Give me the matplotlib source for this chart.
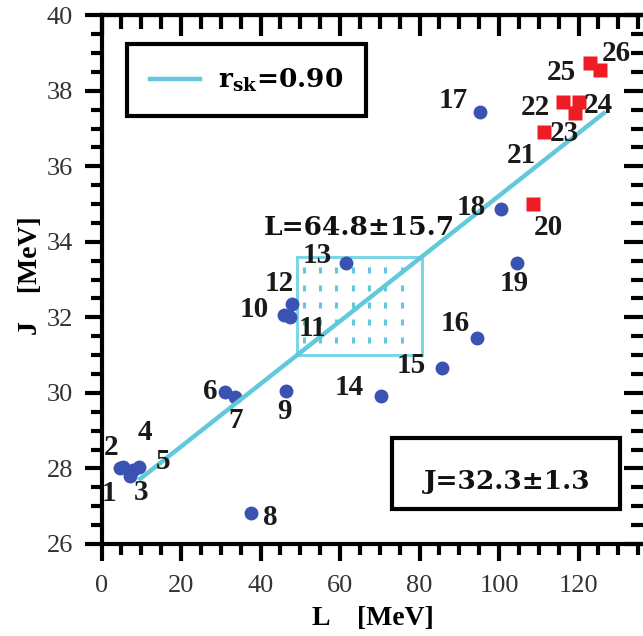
import matplotlib.pyplot as plt
import numpy as np
from matplotlib.patches import Rectangle
from matplotlib.ticker import MultipleLocator

plt.rcParams['mathtext.fontset'] = 'dejavuserif'

# symmetry energy J vs slope L, both in MeV
blue_ids = list(range(1, 20))
blue_L = [4.6, 5.5, 7.2, 9.3, 8.0, 31.1, 33.5, 37.7, 46.3, 46.0, 47.5, 48.0,
          61.6, 70.4, 85.6, 94.4, 95.2, 100.6, 104.5]
blue_J = [28.0, 28.05, 27.8, 28.05, 27.95, 30.03, 29.89, 26.83, 30.05, 32.05,
          32.0, 32.35, 33.43, 29.92, 30.65, 31.45, 37.44, 34.87, 33.45]
red_ids = list(range(20, 27))
red_L = [108.6, 111.2, 116.2, 119.0, 120.0, 122.8, 125.3]
red_J = [35.0, 36.9, 37.7, 37.4, 37.7, 38.73, 38.55]

# linear fit J = a + b*L
fit_a = 26.92
fit_b = 0.0830
fit_L = [9.7, 126.3]
r_sk = 0.90

L_mean, L_err = 64.8, 15.7
J_mean, J_err = 32.3, 1.3

# label offsets from each point, in pixels (dx right, dy up)
label_off = {
    1: (-11, -25), 2: (-12, 19), 3: (11, -17), 4: (6, 34), 5: (30, 9),
    6: (-15, 0), 7: (1, -23), 8: (19, -5), 9: (-1, -20), 10: (-30, 6),
    11: (22, -11), 12: (-13, 21), 13: (-29, 8), 14: (-32, 8), 15: (-31, 3),
    16: (-22, 15), 17: (-27, 11), 18: (-30, 1), 19: (-3, -21), 20: (15, -23),
    21: (-22, -23), 22: (-28, -5), 23: (-10, -20), 24: (20, -3), 25: (-28, -9),
    26: (17, 17),
}

cyan = '#62c9dd'
blue = '#3a52b2'
red = '#ee1c24'
dpi = 100

fig = plt.figure(figsize=(6.43, 6.36), dpi=dpi)
ax = fig.add_axes([0.158, 0.1447, 1.003 - 0.158, 0.976 - 0.1447])
ax.set_xlim(0, 136.7)
ax.set_ylim(26, 40)

# uncertainty box with dotted fill
L_lo, L_hi = L_mean - L_err, L_mean + L_err
J_lo, J_hi = J_mean - J_err, J_mean + J_err
ax.add_patch(Rectangle((L_lo, J_lo), L_hi - L_lo, J_hi - J_lo, fill=False,
                       ec='#7fd5e5', lw=2.2, zorder=2))
cols = L_lo + 1.8 + 4.1 * np.arange(7)
rows = J_hi - 0.35 - 0.46 * np.arange(5)
gx, gy = np.meshgrid(cols, rows)
ax.plot(gx.ravel(), gy.ravel(), ls='none', marker='|', ms=4.5, mew=2.2,
        color=cyan, zorder=2)

xs = np.array(fit_L)
line, = ax.plot(xs, fit_a + fit_b * xs, color=cyan, lw=3.2, zorder=4)

ax.plot(blue_L, blue_J, 'o', color=blue, ms=10, mec='none', zorder=3)
ax.plot(red_L, red_J, 's', color=red, ms=9.5, mec='none', zorder=3)

lab_font = dict(family='Liberation Serif', weight='bold', size=21,
                color='#1a1a1a')
for ids, Ls, Js in ((blue_ids, blue_L, blue_J), (red_ids, red_L, red_J)):
    for i, L, J in zip(ids, Ls, Js):
        dx, dy = label_off[i]
        ax.annotate(str(i), (L, J), xytext=(dx * 72 / dpi, dy * 72 / dpi),
                    textcoords='offset points', ha='center', va='center',
                    zorder=5, **lab_font)

bold = dict(family='DejaVu Serif', weight='bold', size=19, color='#111111')
ax.text(L_mean, J_hi + 0.77, f'L={L_mean}\u00b1{L_err}', ha='center',
        va='center', zorder=5, **bold)

ax.add_patch(Rectangle((0.534, 0.066), 0.421, 0.134, transform=ax.transAxes,
                       fill=False, ec='black', lw=3, zorder=6))
ax.text(0.746, 0.118, f'J={J_mean}\u00b1{J_err}', transform=ax.transAxes,
        ha='center', va='center', zorder=6, **bold)

leg = ax.legend([line], [r'$\mathbf{r}_{\mathbf{sk}}$' + f'={r_sk:.2f}'],
                loc='upper left', bbox_to_anchor=(0.047, 0.945),
                borderaxespad=0, fancybox=False, framealpha=1,
                handlelength=1.9, handletextpad=0.7, borderpad=0.85,
                prop=dict(family='DejaVu Serif', weight='bold', size=19))
leg.get_frame().set_edgecolor('black')
leg.get_frame().set_linewidth(3)

# axes: outward ticks on left/bottom, inward ticks on top/right
for s in ax.spines.values():
    s.set_linewidth(3)
ax.xaxis.set_major_locator(MultipleLocator(20))
ax.xaxis.set_minor_locator(MultipleLocator(5))
ax.yaxis.set_major_locator(MultipleLocator(2))
ax.yaxis.set_minor_locator(MultipleLocator(0.5))
ax.tick_params(which='major', direction='out', length=12.5, width=3,
               labelsize=19, labelcolor='#333333')
ax.tick_params(which='minor', direction='out', length=8, width=3)
ax.tick_params(axis='x', pad=10)
ax.tick_params(axis='y', pad=8)
for lab in ax.get_xticklabels() + ax.get_yticklabels():
    lab.set_family('Liberation Serif')

top = ax.secondary_xaxis('top')
right = ax.secondary_yaxis('right')
top.xaxis.set_major_locator(MultipleLocator(20))
top.xaxis.set_minor_locator(MultipleLocator(5))
right.yaxis.set_major_locator(MultipleLocator(2))
right.yaxis.set_minor_locator(MultipleLocator(0.5))
for sec in (top, right):
    sec.tick_params(which='major', direction='in', length=15, width=3,
                    labeltop=False, labelright=False)
    sec.tick_params(which='minor', direction='in', length=10, width=3)
    for s in sec.spines.values():
        s.set_linewidth(3)

axis_font = dict(family='Liberation Serif', weight='bold', size=20)
ax.set_xlabel('L    [MeV]', **axis_font)
ax.set_ylabel('J    [MeV]', **axis_font)
ax.xaxis.set_label_coords(0.5, -0.117)
ax.yaxis.set_label_coords(-0.107, 0.507)

fig.savefig('out.png', dpi=dpi)
